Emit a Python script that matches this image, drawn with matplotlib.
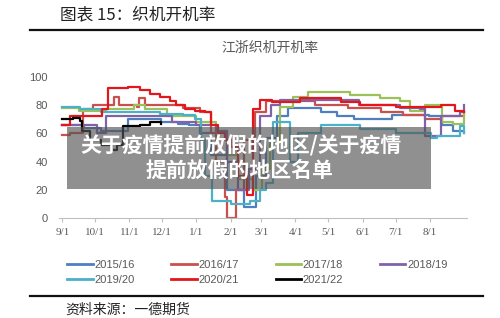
import matplotlib
matplotlib.use('Agg')
import matplotlib.pyplot as plt
from matplotlib.patches import Rectangle
from matplotlib.lines import Line2D

plt.rcParams['font.family'] = ['Noto Sans CJK SC', 'DejaVu Sans']

# days counted from 9/1
month_days = [0, 30, 61, 91, 122, 153, 181, 212, 242, 273, 303, 334]
month_labels = ['9/1', '10/1', '11/1', '12/1', '1/1', '2/1', '3/1', '4/1', '5/1', '6/1', '7/1', '8/1']

d_1516 = [0, 20, 35, 60, 90, 105, 115, 125, 135, 150, 165, 172, 176, 185, 195, 205, 215, 235, 250, 265, 280, 300, 320, 333, 345, 355, 365]
v_1516 = [66, 64, 62, 70, 68, 67, 66, 60, 45, 20, 8, 8, 30, 57, 72, 78, 78, 75, 72, 70, 70, 73, 73, 72, 66, 62, 60]

d_1617 = [0, 7, 19, 28, 45, 47, 52, 68, 70, 75, 90, 110, 125, 135, 140, 148, 150, 153, 158, 165, 175, 185, 200, 230, 260, 290, 310, 330, 345, 365]
v_1617 = [59, 60, 77, 80, 80, 86, 80, 79, 85, 80, 80, 78, 75, 60, 40, 15, 0, 0, 20, 55, 75, 83, 83, 80, 78, 75, 73, 70, 72, 75]

d_1718 = [0, 15, 40, 65, 75, 95, 122, 140, 150, 160, 173, 182, 189, 198, 210, 223, 241, 262, 289, 307, 316, 330, 345, 355, 365]
v_1718 = [78, 76, 77, 80, 77, 72, 68, 62, 45, 28, 20, 35, 53, 79, 86, 89, 89, 87, 85, 83, 76, 80, 68, 67, 75]

d_1819 = [0, 32, 40, 80, 100, 122, 140, 150, 160, 170, 180, 190, 198, 244, 270, 307, 325, 330, 344, 362, 365]
v_1819 = [66, 60, 72, 72, 68, 66, 62, 40, 20, 35, 72, 80, 84, 84, 80, 78, 77, 58, 72, 75, 80]

d_1920 = [0, 16, 35, 89, 110, 121, 126, 130, 136, 153, 171, 180, 185, 192, 203, 207, 214, 235, 271, 303, 335, 341, 362, 365]
v_1920 = [79, 77, 75, 74, 73, 70, 55, 30, 12, 10, 12, 20, 25, 68, 68, 40, 60, 66, 63, 60, 57, 58, 65, 60]

d_2021 = [0, 7, 19, 36, 42, 60, 71, 80, 89, 98, 103, 112, 121, 130, 135, 142, 148, 153, 160, 168, 173, 180, 191, 216, 244, 253, 271, 303, 323, 344, 357, 365]
v_2021 = [66, 72, 72, 77, 92, 93, 91, 88, 86, 83, 80, 77, 76, 75, 66, 60, 55, 50, 30, 16, 77, 84, 82, 85, 85, 82, 80, 79, 79, 80, 76, 75]

d_2122 = [0, 10, 16, 18, 25, 35, 45, 50, 55, 71, 80, 90]
v_2122 = [70, 71, 69, 62, 55, 52, 48, 52, 65, 66, 68, 67]

series = [
    ('2015/16', d_1516, v_1516, '#4F7FBF'),
    ('2016/17', d_1617, v_1617, '#C9504D'),
    ('2017/18', d_1718, v_1718, '#9BC15A'),
    ('2018/19', d_1819, v_1819, '#7F62A8'),
    ('2019/20', d_1920, v_1920, '#4BB0C8'),
    ('2020/21', d_2021, v_2021, '#E3161C'),
    ('2021/22', d_2122, v_2122, '#000000'),
]

fig = plt.figure(figsize=(5, 3.18), dpi=100)
ax = fig.add_axes([0.118, 0.3145, 0.816, 0.4434])

for name, d, v, c in series:
    ax.plot(d, v, color=c, lw=1.6, drawstyle='steps-post', label=name)

ax.set_xlim(-3, 368)
ax.set_ylim(0, 100)
ax.set_yticks([0, 20, 40, 60, 80, 100])
ax.set_xticks(month_days)
ax.set_xticklabels(month_labels, family='Liberation Serif', fontsize=8, color='#595959')
for lab in ax.get_yticklabels():
    lab.set_fontsize(8)
    lab.set_color('#595959')
    lab.set_family('Liberation Sans')
ax.tick_params(axis='y', length=0, pad=8)
ax.tick_params(axis='x', length=3, color='#bfbfbf', pad=4)
for s in ['top', 'right', 'left']:
    ax.spines[s].set_visible(False)
ax.spines['bottom'].set_color('#bfbfbf')

# legend: two rows of four, filled row by row
handles = [Line2D([0], [0], color=c, lw=2) for _, _, _, c in series]
names = [n for n, _, _, _ in series]
order = [0, 4, 1, 5, 2, 6, 3]
leg = fig.legend([handles[i] for i in order], [names[i] for i in order], ncol=4,
                 loc='upper left', bbox_to_anchor=(0.114, 0.215),
                 frameon=False, handlelength=2.3, handletextpad=0.15,
                 columnspacing=3.3, labelspacing=0.45,
                 prop={'family': 'Liberation Sans', 'size': 8})
for t in leg.get_texts():
    t.set_color('#595959')

# header, title and footer
fig.text(0.12, 0.953, '图表 15：织机开机率', fontsize=12, color='#222222', va='center')
fig.add_artist(Line2D([0.06, 0.965], [0.905, 0.905], color='#111111', lw=1.6))
fig.text(0.54, 0.85, '江浙织机开机率', fontsize=10, color='#595959', ha='center', va='center')
fig.add_artist(Line2D([0.06, 0.965], [0.069, 0.069], color='#111111', lw=1.6))
fig.text(0.13, 0.025, '资料来源：一德期货', fontsize=10, color='#222222', va='center')

# overlay banner
fig.patches.append(Rectangle((0.134, 0.4057), 0.728, 0.195, transform=fig.transFigure,
                             facecolor='#555555', alpha=0.65, edgecolor='none', zorder=5))
fig.text(0.482, 0.541, '关于疫情提前放假的地区/关于疫情', fontsize=15, color='white',
         weight='bold', ha='center', va='center', zorder=6)
fig.text(0.48, 0.465, '提前放假的地区名单', fontsize=15, color='white',
         weight='bold', ha='center', va='center', zorder=6)

fig.savefig('out.png', dpi=100)
plt.close(fig)
